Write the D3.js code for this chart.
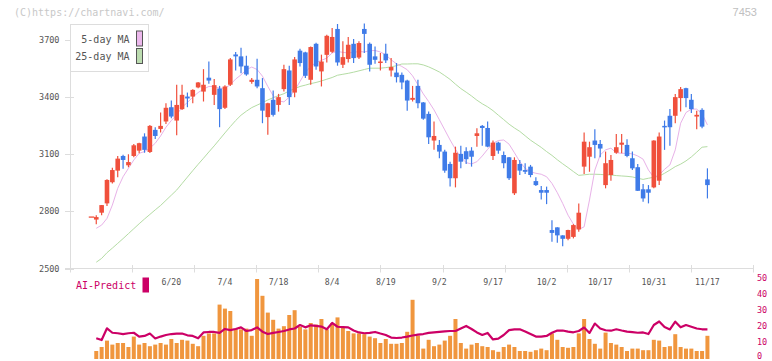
<!DOCTYPE html>
<html>
<head>
<meta charset="utf-8">
<script src="https://cdn.jsdelivr.net/npm/d3@7"></script>
<style>
    body { margin: 0; background: #fff; }
    svg { display: block; }
</style>
</head>
<body>
<svg id="chart" width="772" height="361"></svg>
<script>
// trading days shown on the chart
const dates = [
    "6/2","6/3","6/4","6/5","6/6","6/9","6/10","6/11","6/12","6/13","6/16","6/17","6/18","6/19","6/20","6/23","6/24","6/25","6/26","6/27","6/30",
    "7/1","7/2","7/3","7/4","7/7","7/8","7/9","7/10","7/11","7/14","7/15","7/16","7/17","7/18","7/22","7/23","7/24","7/25","7/28","7/29","7/30","7/31",
    "8/1","8/4","8/5","8/6","8/7","8/8","8/12","8/13","8/14","8/15","8/18","8/19","8/20","8/21","8/22","8/25","8/26","8/27","8/28","8/29",
    "9/1","9/2","9/3","9/4","9/5","9/8","9/9","9/10","9/11","9/12","9/16","9/17","9/18","9/19","9/22","9/24","9/25","9/26","9/29","9/30",
    "10/1","10/2","10/3","10/6","10/7","10/8","10/9","10/10","10/14","10/15","10/16","10/17","10/20","10/21","10/22","10/23","10/24","10/27","10/28","10/29","10/30","10/31",
    "11/4","11/5","11/6","11/7","11/10","11/11","11/12","11/13","11/14","11/17"
];

const open = [2757,2793,2842,2953,3014,3091,3042,3091,3119,3193,3112,3228,3233,3272,3347,3277,3337,3403,3403,3451,
    3429,3502,3412,3445,3344,3465,3624,3614,3565,3480,3491,3447,3295,3386,3359,3442,3540,3424,3644,3635,
    3491,3680,3535,3622,3638,3758,3570,3600,3680,3608,3758,3680,3614,3584,3628,3540,3529,3517,3487,3386,
    3459,3372,3312,3172,3149,3114,3049,2974,3102,3116,3119,3196,3249,3238,3091,3161,3096,3084,2895,3049,
    3017,3035,2959,2912,2912,2702,2716,2674,2656,2666,2705,3035,3087,3172,3154,2938,2991,3108,3150,3149,
    3079,3032,2916,2916,2926,2961,3249,3302,3302,3395,3447,3386,3298,3333,2968];
const high = [2780,2833,2969,3029,3091,3098,3100,3154,3161,3210,3254,3242,3319,3368,3382,3465,3465,3424,3442,3480,
    3547,3587,3495,3459,3463,3606,3637,3659,3617,3501,3601,3500,3370,3435,3417,3570,3565,3611,3654,3638,
    3666,3686,3623,3727,3763,3784,3693,3716,3705,3693,3786,3687,3666,3632,3680,3605,3579,3529,3491,3459,
    3491,3375,3324,3272,3175,3123,3061,3140,3144,3137,3137,3237,3254,3272,3172,3165,3114,3086,3084,3070,
    3053,3044,2979,2933,2930,2754,2717,2675,2703,2733,2842,3214,3166,3231,3175,3114,3096,3207,3207,3179,
    3114,3049,2944,2938,3174,3214,3277,3337,3417,3453,3449,3417,3329,3342,3026];
const low = [2733,2780,2828,2947,2979,3024,3032,3084,3105,3108,3107,3180,3214,3259,3289,3200,3333,3347,3368,3447,
    3377,3470,3359,3242,3337,3459,3540,3526,3512,3470,3447,3263,3202,3298,3324,3429,3359,3400,3561,3500,
    3465,3544,3456,3582,3632,3565,3553,3582,3579,3600,3632,3535,3575,3540,3579,3508,3477,3442,3329,3377,
    3342,3281,3154,3123,3079,3003,2930,2926,3026,3049,3035,3140,3144,3137,3070,3102,3026,2965,2886,2991,
    2996,2979,2933,2863,2838,2640,2635,2617,2649,2658,2693,2996,3008,3079,3084,2921,2961,3102,3105,3084,
    3017,2907,2851,2842,2921,2938,3123,3144,3263,3324,3347,3316,3231,3237,2868];
const close = [2770,2833,2965,3017,3077,3070,3059,3147,3158,3123,3249,3196,3249,3344,3298,3359,3412,3393,3438,3477,
    3465,3487,3463,3337,3456,3598,3614,3561,3519,3491,3456,3329,3368,3307,3400,3547,3400,3598,3579,3512,
    3663,3561,3587,3722,3716,3582,3610,3675,3605,3684,3732,3570,3596,3587,3593,3558,3505,3477,3382,3396,
    3368,3287,3189,3196,3114,3014,2974,3108,3061,3074,3087,3210,3238,3140,3161,3119,3053,2974,3070,3014,
    3008,2991,2938,2898,2898,2687,2674,2656,2702,2728,2793,3166,3137,3149,3130,3053,3070,3137,3161,3091,
    3026,2908,2868,2898,3172,3193,3242,3242,3400,3442,3395,3337,3307,3245,2938];

// moving averages as drawn on the chart
const ma5 = [2711,2728,2763,2833,2921,2982,3026,3070,3105,3114,3132,3158,3196,3242,3277,3307,3347,3372,3400,3424,
    3442,3456,3456,3447,3447,3465,3495,3517,3544,3558,3545,3510,3456,3407,3380,3375,3400,3435,3482,3530,
    3561,3582,3593,3605,3632,3640,3635,3632,3635,3640,3637,3644,3645,3637,3622,3596,3575,3561,3544,3512,
    3465,3417,3377,3333,3281,3228,3175,3126,3084,3056,3049,3061,3091,3126,3158,3172,3175,3153,3108,3061,
    3026,3008,3000,2995,2982,2947,2898,2842,2780,2733,2705,2719,2860,3017,3096,3123,3132,3108,3105,3105,
    3102,3091,3074,3017,2979,2991,3021,3044,3123,3263,3319,3337,3337,3312,3254];
const ma25 = [2533,2553,2583,2607,2632,2657,2683,2709,2735,2760,2784,2808,2831,2858,2885,2912,2946,2980,3014,3047,
    3079,3112,3144,3178,3212,3245,3277,3305,3326,3345,3358,3371,3385,3397,3408,3418,3433,3444,3456,3463,
    3471,3477,3485,3494,3503,3515,3520,3525,3531,3538,3545,3552,3552,3552,3555,3559,3565,3574,3574,3575,
    3575,3569,3559,3546,3532,3513,3493,3468,3445,3426,3406,3384,3365,3349,3329,3305,3282,3258,3238,3220,
    3197,3174,3155,3136,3114,3094,3071,3050,3030,3009,2989,2992,2995,2995,2994,2992,2991,2988,2986,2984,
    2981,2974,2968,2974,2979,2985,3000,3017,3035,3048,3065,3086,3111,3137,3140];

// volume (relative units) and AI-Predict index
const volume = [10,15,23,18,20,20,15,28,18,20,16,18,20,18,25,20,24,23,19,16,
    29,32,32,68,63,60,38,37,38,29,100,79,58,49,38,41,55,61,40,37,
    45,43,50,37,45,52,40,35,32,32,31,28,26,20,25,19,19,20,34,74,
    29,13,24,16,18,23,29,50,20,13,18,20,16,15,11,9,15,18,15,10,
    10,9,11,13,11,32,24,15,14,15,32,50,25,19,13,33,20,18,15,10,
    13,13,11,11,24,23,15,16,31,15,13,13,10,10,29];
const aiPredict = [12.2,11.1,18.5,15.7,15.4,14.9,15.4,15.7,13.3,13.7,15.2,12.1,13.3,14.3,14.9,15.2,15.2,14.1,13.7,12.2,
    15.9,16.2,16.2,15.6,18.1,17.4,18.1,19.1,16.8,17.4,19.1,16.4,14.9,15.6,16.2,16.8,17.8,18.4,20.6,19.1,
    20.4,20.0,19.6,17.9,21.9,19.5,19.3,19.1,17.1,15.9,15.4,15.6,16.2,15.2,14.3,12.7,12.4,12.7,13.3,14.0,
    14.5,14.9,15.6,16.0,16.3,16.6,16.8,16.8,18.4,20.0,18.1,15.9,14.3,15.6,11.5,12.0,14.3,17.4,17.8,17.9,
    16.5,14.9,13.3,13.3,13.7,15.7,17.1,17.1,16.4,16.0,16.8,19.0,15.6,21.5,18.4,17.3,17.0,17.9,17.1,16.4,
    16.1,15.7,15.9,14.9,20.6,22.8,19.3,17.8,22.7,19.1,20.6,19.5,18.4,17.9,17.9];

const dateLabels = ["6/20","7/4","7/18","8/4","8/19","9/2","9/17","10/2","10/17","10/31","11/17"];
const priceTicks = [2500, 2800, 3100, 3400, 3700];
const aiTicks = [0, 10, 20, 30, 40, 50];

const svg = d3.select("#chart");
const mono = "'DejaVu Sans Mono', monospace";
const axisColor = "#dddddd";

const red = "#f0503c", blue = "#3f7be8";

// scales
const x = d3.scaleLinear().domain([-4.9, 122.5]).range([70, 753]);
const y = d3.scaleLinear().domain([2500, 3700]).range([268.5, 40]);
const yVol = d3.scaleLinear().domain([0, 100]).range([359, 279]);
const yAi = d3.scaleLinear().domain([0, 50]).range([357.7, 278.3]);
const grid = d3.scaleLinear().domain([0, 11]).range([70, 753]);

// header texts
svg.append("text").attr("x", 14).attr("y", 16)
    .style("font-family", mono).style("font-size", "10px").style("fill", "#c8c8c8")
    .text("(C)https://chartnavi.com/");
svg.append("text").attr("x", 757).attr("y", 16).attr("text-anchor", "end")
    .style("font-family", "'Liberation Sans', Arial, sans-serif").style("font-size", "11px").style("fill", "#c0c0c0")
    .text("7453");

// axes
svg.append("line").attr("x1", 70.5).attr("x2", 70.5).attr("y1", 24).attr("y2", 268.5)
    .style("stroke", axisColor);
svg.append("line").attr("x1", 65).attr("x2", 753).attr("y1", 268.5).attr("y2", 268.5)
    .style("stroke", axisColor);
svg.selectAll(".gtick").data(d3.range(12)).enter().append("line")
    .attr("x1", d => Math.round(grid(d)) + 0.5).attr("x2", d => Math.round(grid(d)) + 0.5)
    .attr("y1", 265).attr("y2", 272.5)
    .style("stroke", axisColor);
svg.selectAll(".ptick").data(priceTicks).enter().append("line")
    .attr("x1", 65).attr("x2", 74)
    .attr("y1", d => Math.round(y(d)) + 0.5).attr("y2", d => Math.round(y(d)) + 0.5)
    .style("stroke", axisColor);
svg.selectAll(".plabel").data(priceTicks).enter().append("text")
    .attr("x", 59.5).attr("y", d => y(d) + 3)
    .attr("text-anchor", "end")
    .style("font-family", mono).style("font-size", "8.5px").style("fill", "#555")
    .text(d => d);

// date labels
svg.selectAll(".dlabel").data(dateLabels).enter().append("text")
    .attr("x", d => x(dates.indexOf(d))).attr("y", 285)
    .attr("text-anchor", "middle")
    .style("font-family", mono).style("font-size", "8.2px").style("fill", "#555")
    .text(d => d);

// moving averages
const maLine = (arr) => d3.line().x((d, i) => x(i)).y(d => y(d))(arr);
svg.append("path").attr("d", maLine(ma25))
    .style("fill", "none").style("stroke", "#b4dca4").style("stroke-width", 1);
svg.append("path").attr("d", maLine(ma5))
    .style("fill", "none").style("stroke", "#e8b2e8").style("stroke-width", 1);

// candles
const candles = svg.append("g").selectAll("g").data(d3.range(close.length)).enter().append("g");
candles.append("line")
    .attr("x1", i => x(i)).attr("x2", i => x(i))
    .attr("y1", i => y(high[i])).attr("y2", i => y(low[i]))
    .style("stroke", i => close[i] >= open[i] ? red : blue)
    .style("stroke-width", 1.2);
candles.append("rect")
    .attr("x", i => x(i) - 2.3).attr("width", 4.6)
    .attr("y", i => y(Math.max(open[i], close[i])))
    .attr("height", i => Math.max(1.5, Math.abs(y(open[i]) - y(close[i]))))
    .style("fill", i => close[i] >= open[i] ? red : blue);
// mark at the first close
svg.append("line")
    .attr("x1", x(0) - 7.5).attr("x2", x(0) - 2)
    .attr("y1", y(close[0])).attr("y2", y(close[0]))
    .style("stroke", red).style("stroke-width", 1.3);

// legend
svg.append("rect").attr("x", 70.5).attr("y", 24.5).attr("width", 78).attr("height", 47)
    .style("fill", "#fff").style("stroke", axisColor);
const legend = [["5-day MA", "#ecb8ec", 43, 31], ["25-day MA", "#bcdcb0", 60, 48.5]];
legend.forEach(function(l) {
    svg.append("text").attr("x", 129.5).attr("y", l[2]).attr("text-anchor", "end")
        .style("font-family", mono).style("font-size", "10px").style("fill", "#555")
        .text(l[0]);
    svg.append("rect").attr("x", 136.5).attr("y", l[3]).attr("width", 6).attr("height", 15)
        .style("fill", l[1]).style("stroke", "#555");
});

// volume bars
svg.append("g").selectAll("rect").data(volume).enter().append("rect")
    .attr("x", (d, i) => x(i) - 2).attr("width", 4)
    .attr("y", d => yVol(d)).attr("height", d => yVol(0) - yVol(d))
    .style("fill", "#f0963e");

// AI-Predict line
svg.append("path")
    .attr("d", d3.line().x((d, i) => x(i)).y(d => yAi(d))(aiPredict))
    .style("fill", "none").style("stroke", "#cc0066").style("stroke-width", 2.2)
    .style("stroke-linejoin", "round");

svg.selectAll(".ailabel").data(aiTicks).enter().append("text")
    .attr("x", 757).attr("y", d => Math.min(yAi(d) + 3, 359.3))
    .style("font-family", mono).style("font-size", "8.5px").style("fill", "#cc0066")
    .text(d => d);

svg.append("text").attr("x", 76).attr("y", 289)
    .style("font-family", mono).style("font-size", "10px").style("fill", "#cc0066")
    .text("AI-Predict");
svg.append("rect").attr("x", 142.5).attr("y", 277.5).attr("width", 6.5).attr("height", 15)
    .style("fill", "#cc0066");
</script>
</body>
</html>
